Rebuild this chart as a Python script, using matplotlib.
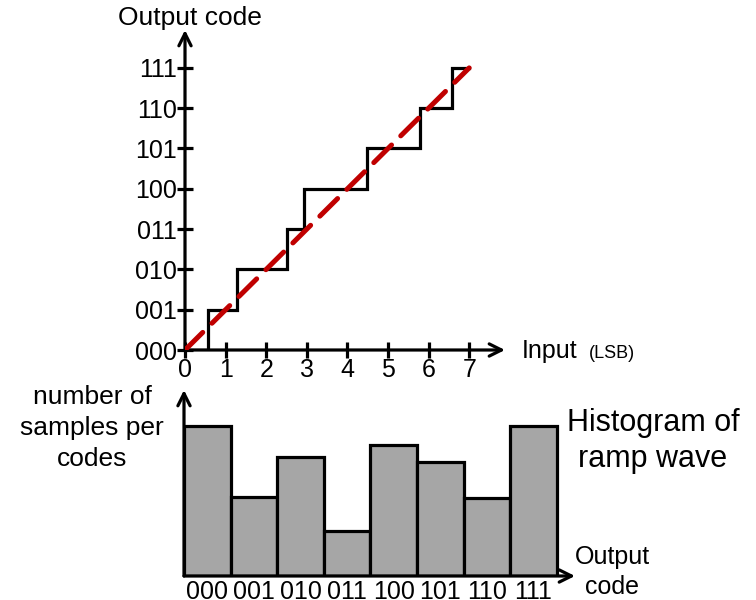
import numpy as np
import matplotlib
matplotlib.use('Agg')
import matplotlib.pyplot as plt

plt.rcParams['font.family'] = ['Liberation Sans', 'DejaVu Sans']

# transfer curve: input level at which each code starts
code_edges = [0, 0.56, 1.28, 2.52, 2.93, 4.49, 5.8, 6.57, 7]
code_levels = [0, 1, 2, 3, 4, 5, 6, 7, 7]
code_labels = ['000', '001', '010', '011', '100', '101', '110', '111']
input_ticks = [0, 1, 2, 3, 4, 5, 6, 7]

# histogram of ramp wave (samples per code)
hist_counts = [150, 79, 119, 45, 131, 114, 78, 150]

W, H = 756, 600
fig = plt.figure(figsize=(W / 100, H / 100), dpi=100)

lw = 2.3
arrow = dict(arrowstyle='->', lw=lw, color='black', mutation_scale=22,
             shrinkA=0, shrinkB=0)

# ---- transfer curve
ax = fig.add_axes([185 / W, 1 - 350 / H, 320 / W, 320 / H])
xmax, ymax = 320 / 40.6, 320 / 40.3
ax.set_xlim(0, xmax)
ax.set_ylim(0, ymax)
for s in ax.spines.values():
    s.set_visible(False)
ax.plot(code_edges, code_levels, drawstyle='steps-post', color='black',
        lw=lw, solid_joinstyle='miter', zorder=3)
ax.plot([0, 7], [0, 7], color='#c00000', lw=3.6, dashes=(5, 2.6),
        dash_capstyle='round', zorder=4)
ax.annotate('', xy=(xmax, 0), xytext=(0, 0), arrowprops=arrow,
            annotation_clip=False)
ax.annotate('', xy=(0, ymax), xytext=(0, 0), arrowprops=arrow,
            annotation_clip=False)
ax.set_xticks(input_ticks)
ax.set_xticklabels([str(t) for t in input_ticks])
ax.set_yticks(range(8))
ax.set_yticklabels(code_labels)
ax.tick_params(direction='inout', length=12, width=lw, labelsize=18, pad=0)

fig.text(190 / W, 1 - 18 / H, 'Output code', fontsize=19, ha='center', va='center')
fig.text(522 / W, 1 - 351 / H, 'Input', fontsize=18, ha='left', va='center')
fig.text(589 / W, 1 - 354 / H, '(LSB)', fontsize=13, ha='left', va='center')

# ---- histogram
bx = fig.add_axes([184 / W, 1 - 576 / H, (575 - 184) / W, 186 / H])
bx.set_xlim(0, (575 - 184) / 46.6)
bx.set_ylim(0, 186)
for s in bx.spines.values():
    s.set_visible(False)
bx.bar(np.arange(8) + 0.5, hist_counts, width=1, color='#a6a6a6',
       edgecolor='black', lw=lw, zorder=2)
bx.annotate('', xy=((575 - 184) / 46.6, 0), xytext=(0, 0), arrowprops=arrow,
            annotation_clip=False)
bx.annotate('', xy=(0, 186), xytext=(0, 0), arrowprops=arrow,
            annotation_clip=False)
bx.set_xticks(np.arange(8) + 0.5)
bx.set_xticklabels(code_labels)
bx.set_yticks([])
bx.tick_params(axis='x', length=0, labelsize=18, pad=3)

fig.text(92 / W, 1 - 428 / H, 'number of\nsamples per\ncodes', fontsize=19,
         ha='center', va='center', linespacing=1.35)
fig.text(653 / W, 1 - 441 / H, 'Histogram of\nramp wave', fontsize=22,
         ha='center', va='center', linespacing=1.3)
fig.text(612 / W, 1 - 572 / H, 'Output\ncode', fontsize=18,
         ha='center', va='center', linespacing=1.35)

fig.savefig('out.png', dpi=100)
